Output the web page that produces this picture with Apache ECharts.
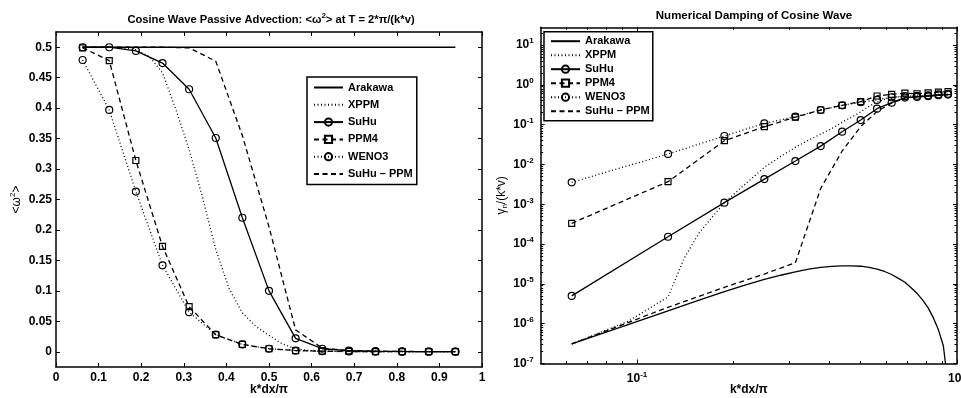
<!DOCTYPE html>
<html><head><meta charset="utf-8">
<script src="https://cdn.jsdelivr.net/npm/echarts@6/dist/echarts.min.js"></script>
<style>html,body{margin:0;padding:0;background:#fff}#c{width:961px;height:398px}</style>
</head><body><div id="c"></div>
<script>
// ---------- data ----------
const seriesNames = ['Arakawa', 'XPPM', 'SuHu', 'PPM4', 'WENO3', 'SuHu – PPM'];
const xCoarse = [0.0625,0.125,0.1875,0.25,0.3125,0.375,0.4375,0.5,0.5625,0.625,0.6875,0.75,0.8125,0.875,0.9375];
const xFine = [0.0625,0.09375,0.125,0.15625,0.1875,0.21875,0.25,0.28125,0.3125,0.34375,0.375,0.40625,0.4375,0.46875,0.5,0.53125,0.5625,0.59375,0.625,0.65625,0.6875,0.71875,0.75,0.78125,0.8125,0.84375,0.875,0.90625,0.9375];
const xXppmRight = [0.0625,0.09375,0.125,0.140625,0.15625,0.171875,0.1875,0.21875,0.25,0.28125,0.3125,0.34375,0.375,0.40625,0.4375,0.46875,0.5,0.53125,0.5625,0.59375,0.625,0.65625,0.6875,0.71875,0.75,0.78125,0.8125,0.84375,0.875,0.90625,0.9375];

// left panel: <omega^2> at T = 2*pi/(k*v)
const leftArakawa = [0.5,0.5,0.5,0.5,0.5,0.5,0.5,0.5,0.5,0.5,0.5,0.5,0.5,0.5,0.5];
const leftXPPM = [0.5,0.5,0.5,0.499,0.496,0.485,0.458,0.398,0.332,0.254,0.168,0.104,0.064,0.042,0.027,0.013,0.005,0.002,0.001,0.0005,0.0003,0.0002,0.0001,0.0001,0.0001,0.0001,0.0001,0.0001,0.0001];
const leftSuHu = [0.5,0.5,0.494,0.474,0.431,0.351,0.220,0.100,0.022,0.005,0.002,0.001,0.0005,0.0003,0.0002];
const leftPPM4 = [0.499,0.478,0.314,0.173,0.074,0.028,0.012,0.005,0.002,0.001,0.0005,0.0003,0.0002,0.0001,0.0001];
const leftWENO3 = [0.479,0.397,0.263,0.142,0.065,0.028,0.012,0.005,0.002,0.001,0.0005,0.0003,0.0002,0.0001,0.0001];
const leftSuHuPPM = [0.5,0.5,0.5,0.5,0.499,0.477,0.355,0.205,0.036,0.006,0.002,0.001,0.0005,0.0003,0.0002];

// right panel: gamma_n/(k*v)
const rightArakawa = [3.1e-7,9.5e-7,2.1e-6,3.9e-6,6.4e-6,9.5e-6,1.3e-5,1.65e-5,2.0e-5,2.35e-5,2.6e-5,2.75e-5,2.85e-5,2.85e-5,2.78e-5,2.6e-5,2.35e-5,2.05e-5,1.72e-5,1.38e-5,1.1e-5,8.0e-6,5.8e-6,3.9e-6,2.5e-6,1.4e-6,7e-7,2.8e-7,3e-8];
const rightXPPM = [3.1e-7,1.15e-6,4.7e-6,4.5e-5,1.9e-4,4.8e-4,1.1e-3,3.3e-3,8.5e-3,0.016,0.027,0.041,0.058,0.08,0.115,0.155,0.21,0.29,0.37,0.43,0.47,0.5,0.51,0.52,0.53,0.54,0.55,0.56,0.57,0.58,0.59];
const rightSuHu = [5.0e-6,1.53e-4,1.1e-3,4.3e-3,0.0122,0.029,0.0667,0.131,0.252,0.357,0.48,0.5,0.52,0.55,0.57];
const rightPPM4 = [3.33e-4,3.7e-3,0.0396,0.089,0.155,0.234,0.307,0.38,0.526,0.58,0.62,0.6,0.63,0.66,0.68];
const rightWENO3 = [3.57e-3,0.0184,0.052,0.108,0.159,0.234,0.307,0.366,0.42,0.49,0.52,0.53,0.55,0.58,0.6];
const rightSuHuPPM = [3.1e-7,2.58e-6,8.2e-6,1.77e-5,3.4e-5,2.5e-3,0.0218,0.0895,0.215,0.35,0.47,0.5,0.52,0.55,0.57];

// ticks
const leftXTicks = [0,0.1,0.2,0.3,0.4,0.5,0.6,0.7,0.8,0.9,1];
const leftYTicks = [0,0.05,0.1,0.15,0.2,0.25,0.3,0.35,0.4,0.45,0.5];
const logXMajor = [0.1, 1];
const logYMajor = [1e-7,1e-6,1e-5,1e-4,1e-3,1e-2,1e-1,1,10];
const logMinorMult = [2,3,4,5,6,7,8,9];

// ---------- helpers ----------
const F = '"Liberation Sans", Arial, Helvetica, sans-serif';
const zip = (xs, ys) => xs.map((x, i) => [x, ys[i]]);
const logXMinor = [];
[0.01, 0.1].forEach(d => logMinorMult.forEach(m => { const v = +(d*m).toPrecision(3); if (v > 0.05 && v < 1) logXMinor.push(v); }));
const logYMinor = [];
logYMajor.forEach(d => logMinorMult.forEach(m => { const v = +(d*m).toPrecision(3); if (v < 28) logYMinor.push(v); }));

const supRich = {
  b: {fontFamily: F, fontWeight: 'bold', fontSize: 12, color: '#000'},
  e: {fontFamily: F, fontWeight: 'bold', fontSize: 8, color: '#000', padding: [0, 0, 8, 0]}
};
const pow10 = v => {
  const e = Math.log10(v);
  if (Math.abs(e - Math.round(e)) > 1e-6) return '';
  const r = Math.round(e);
  return '{b|10}{e|' + (r < 0 ? '-' + (-r) : r) + '}';
};

const lineAxis = {onZero: false, lineStyle: {color: '#000', width: 1.5}};
const noLine = {show: false, onZero: false};
const tickStyle = {color: '#000', width: 1};
const labelStyle = {color: '#000', fontFamily: F, fontWeight: 'bold', fontSize: 12};

const styles = {
  'Arakawa': {type: 'solid', symbol: 'none'},
  'XPPM': {type: [1, 2.5], symbol: 'none'},
  'SuHu': {type: 'solid', symbol: 'circle', size: 7},
  'PPM4': {type: [5, 3.5], symbol: 'rect', size: 6},
  'WENO3': {type: [1, 2.5], symbol: 'circle', size: 7},
  'SuHu – PPM': {type: [5, 3.5], symbol: 'none'}
};
function mk(name, data, xi, yi) {
  const s = styles[name];
  return {
    name, type: 'line', data, xAxisIndex: xi, yAxisIndex: yi,
    symbol: s.symbol, symbolSize: s.size || 0, showSymbol: s.symbol !== 'none',
    lineStyle: {color: '#000', width: 1.3, type: s.type},
    itemStyle: {color: 'rgba(255,255,255,0)', borderColor: '#000', borderWidth: 1.2},
    emphasis: {disabled: true}, animation: false, clip: true
  };
}

const legendData = seriesNames.map(n => styles[n].symbol === 'none'
  ? {name: n, itemStyle: {opacity: 0, color: 'rgba(0,0,0,0)', borderColor: 'rgba(0,0,0,0)', borderWidth: 0}}
  : {name: n});
const legendBase = {
  orient: 'vertical', data: legendData, itemWidth: 29, itemHeight: 9,
  borderColor: '#000', borderWidth: 1.5, backgroundColor: '#fff', borderRadius: 0,
  textStyle: {fontFamily: F, fontWeight: 'bold', fontSize: 11, color: '#000', lineHeight: 13},
  selectedMode: false
};

const option = {
  backgroundColor: '#fff',
  animation: false,
  title: [
    {text: 'Cosine Wave Passive Advection: <ω{s|2}> at T = 2*π/(k*v)', left: 266, top: 7, textAlign: 'center',
     textStyle: {fontFamily: F, fontWeight: 'bold', fontSize: 11.2, color: '#000',
       rich: {s: {fontFamily: F, fontWeight: 'bold', fontSize: 8, color: '#000', padding: [0, 0, 7, 0]}}}},
    {text: 'Numerical Damping of Cosine Wave', left: 749, top: 5, textAlign: 'center',
     textStyle: {fontFamily: F, fontWeight: 'bold', fontSize: 11.5, color: '#000'}}
  ],
  legend: [
    Object.assign({}, legendBase, {left: 307, top: 77, itemGap: 4.3, padding: [4, 4, 4, 6]}),
    Object.assign({}, legendBase, {left: 544, top: 31.7, itemGap: 1, padding: [3, 3, 3, 6]})
  ],
  grid: [
    {left: 56, top: 32, width: 426, height: 335, outerBoundsMode: 'none', containLabel: false},
    {left: 540.7, top: 27.3, width: 416.3, height: 336.2, outerBoundsMode: 'none', containLabel: false}
  ],
  xAxis: [
    {type: 'value', gridIndex: 0, position: 'bottom', min: 0, max: 1, interval: 0.1,
     axisLine: lineAxis, axisTick: {inside: true, length: 4, lineStyle: tickStyle},
     axisLabel: Object.assign({margin: 5}, labelStyle), splitLine: {show: false},
     name: 'k*dx/π', nameLocation: 'middle', nameGap: 17, nameMoveOverlap: false,
     nameTextStyle: {fontFamily: F, fontWeight: 'bold', fontSize: 12, color: '#000'}},
    {type: 'value', gridIndex: 0, position: 'top', min: 0, max: 1, interval: 0.1,
     axisLine: lineAxis, axisTick: {inside: true, length: 4, lineStyle: tickStyle},
     axisLabel: {show: false}, splitLine: {show: false}},
    {type: 'log', logBase: 10, gridIndex: 1, position: 'bottom', min: 0.05, max: 1,
     axisLine: lineAxis, axisTick: {inside: true, length: 4, lineStyle: tickStyle, customValues: logXMajor},
     axisLabel: {margin: 7, formatter: pow10, rich: supRich, customValues: logXMajor}, splitLine: {show: false},
     minorTick: {show: false},
     name: 'k*dx/π', nameLocation: 'middle', nameGap: 20, nameMoveOverlap: false,
     nameTextStyle: {fontFamily: F, fontWeight: 'bold', fontSize: 12, color: '#000'}},
    {type: 'log', logBase: 10, gridIndex: 1, position: 'top', min: 0.05, max: 1,
     axisLine: lineAxis, axisTick: {inside: true, length: 4, lineStyle: tickStyle, customValues: logXMajor},
     axisLabel: {show: false}, splitLine: {show: false}},
    {type: 'log', logBase: 10, gridIndex: 1, position: 'bottom', min: 0.05, max: 1,
     axisLine: noLine, axisTick: {inside: true, length: 2.5, lineStyle: tickStyle, customValues: logXMinor},
     axisLabel: {show: false}, splitLine: {show: false}},
    {type: 'log', logBase: 10, gridIndex: 1, position: 'top', min: 0.05, max: 1,
     axisLine: noLine, axisTick: {inside: true, length: 2.5, lineStyle: tickStyle, customValues: logXMinor},
     axisLabel: {show: false}, splitLine: {show: false}}
  ],
  yAxis: [
    {type: 'value', gridIndex: 0, position: 'left', min: -0.025, max: 0.525,
     axisLine: lineAxis, axisTick: {inside: true, length: 4, lineStyle: tickStyle, customValues: leftYTicks},
     axisLabel: Object.assign({margin: 4, customValues: leftYTicks}, labelStyle), splitLine: {show: false},
     name: '<ω{s|2}>', nameLocation: 'middle', nameGap: 32, nameRotate: 90,
     nameTextStyle: {fontFamily: F, fontSize: 12, color: '#000',
       rich: {s: {fontFamily: F, fontSize: 8, color: '#000', padding: [0, 0, 7, 0]}}}},
    {type: 'value', gridIndex: 0, position: 'right', min: -0.025, max: 0.525,
     axisLine: lineAxis, axisTick: {inside: true, length: 4, lineStyle: tickStyle, customValues: leftYTicks},
     axisLabel: {show: false}, splitLine: {show: false}},
    {type: 'log', logBase: 10, gridIndex: 1, position: 'left', min: 1e-7, max: 28,
     axisLine: lineAxis, axisTick: {inside: true, length: 4, lineStyle: tickStyle, customValues: logYMajor},
     axisLabel: {margin: 7, formatter: pow10, rich: supRich, customValues: logYMajor}, splitLine: {show: false},
     name: 'γ{n|n}/(k*v)', nameLocation: 'middle', nameGap: 32, nameRotate: 90,
     nameTextStyle: {fontFamily: F, fontSize: 12, color: '#000',
       rich: {n: {fontFamily: F, fontSize: 8, color: '#000', padding: [7, 0, 0, 0]}}}},
    {type: 'log', logBase: 10, gridIndex: 1, position: 'right', min: 1e-7, max: 28,
     axisLine: lineAxis, axisTick: {inside: true, length: 4, lineStyle: tickStyle, customValues: logYMajor},
     axisLabel: {show: false}, splitLine: {show: false}},
    {type: 'log', logBase: 10, gridIndex: 1, position: 'left', min: 1e-7, max: 28,
     axisLine: noLine, axisTick: {inside: true, length: 2.5, lineStyle: tickStyle, customValues: logYMinor},
     axisLabel: {show: false}, splitLine: {show: false}},
    {type: 'log', logBase: 10, gridIndex: 1, position: 'right', min: 1e-7, max: 28,
     axisLine: noLine, axisTick: {inside: true, length: 2.5, lineStyle: tickStyle, customValues: logYMinor},
     axisLabel: {show: false}, splitLine: {show: false}}
  ],
  series: [
    mk('Arakawa', zip(xCoarse, leftArakawa), 0, 0),
    mk('XPPM', zip(xFine, leftXPPM), 0, 0),
    mk('SuHu', zip(xCoarse, leftSuHu), 0, 0),
    mk('PPM4', zip(xCoarse, leftPPM4), 0, 0),
    mk('WENO3', zip(xCoarse, leftWENO3), 0, 0),
    mk('SuHu – PPM', zip(xCoarse, leftSuHuPPM), 0, 0),
    mk('Arakawa', zip(xFine, rightArakawa), 2, 2),
    mk('XPPM', zip(xXppmRight, rightXPPM), 2, 2),
    mk('SuHu', zip(xCoarse, rightSuHu), 2, 2),
    mk('PPM4', zip(xCoarse, rightPPM4), 2, 2),
    mk('WENO3', zip(xCoarse, rightWENO3), 2, 2),
    mk('SuHu – PPM', zip(xCoarse, rightSuHuPPM), 2, 2)
  ]
};
const chart = echarts.init(document.getElementById('c'), null, {renderer: 'canvas'});
chart.setOption(option);
</script>
</body></html>
